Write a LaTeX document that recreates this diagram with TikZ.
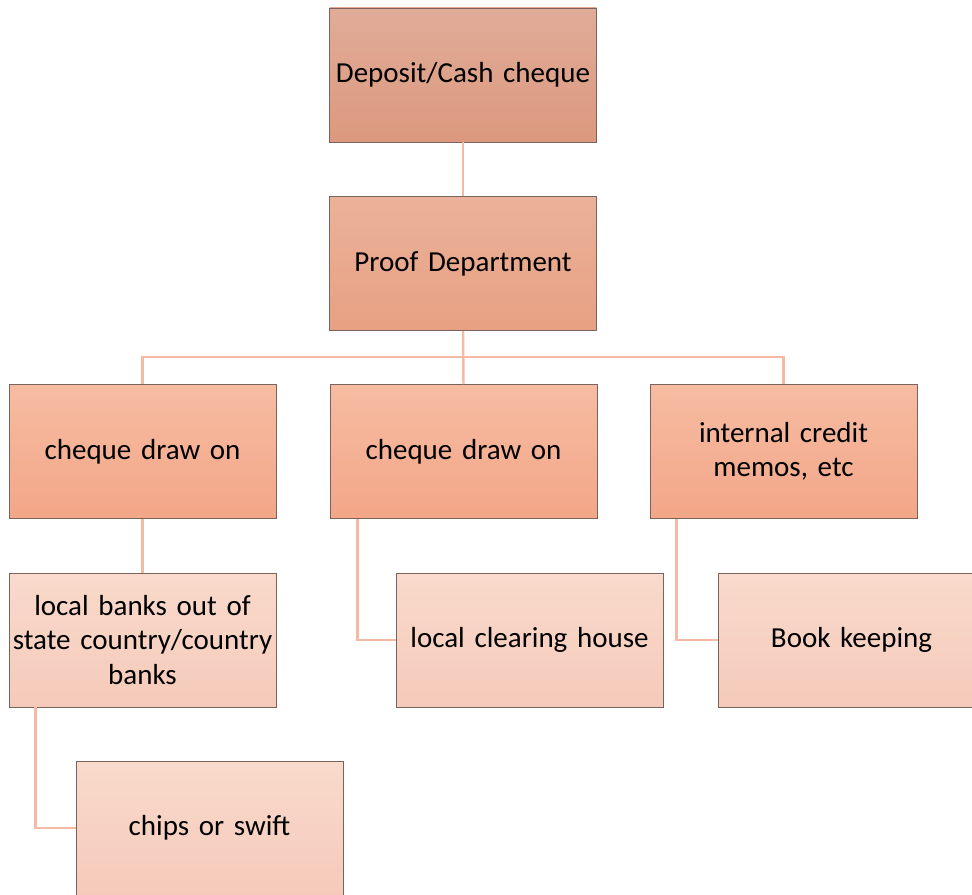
\documentclass[tikz,border=0pt]{standalone}
\usepackage{fontspec}
\setmainfont{Carlito}
\newcommand\boxfont{\fontsize{16.5}{19.5}\selectfont\spaceskip=0.7\fontdimen2\font\relax}
\definecolor{linkcol}{RGB}{244,186,164}
\definecolor{edgecol}{RGB}{120,100,92}
\tikzset{
    box/.style={draw=edgecol, line width=0.5pt, minimum width=5.34cm, minimum height=2.68cm,
        text width=5.3cm, align=center, inner sep=0pt, font=\boxfont},
    topbox/.style={box, top color={rgb,255:red,224;green,172;blue,152}, bottom color={rgb,255:red,220;green,152;blue,126}},
    deptbox/.style={box, top color={rgb,255:red,234;green,178;blue,154}, bottom color={rgb,255:red,232;green,160;blue,130}},
    midbox/.style={box, top color={rgb,255:red,246;green,188;blue,162}, bottom color={rgb,255:red,243;green,166;blue,136}},
    lowbox/.style={box, top color={rgb,255:red,249;green,218;blue,204}, bottom color={rgb,255:red,245;green,202;blue,186}},
    link/.style={draw=linkcol, line width=1.4pt}
}
\begin{document}
\begin{tikzpicture}
    \useasboundingbox (0,0) rectangle (19.44,-17.88);
    % top of the tree
    \node[topbox] (dep) at (9.26,-1.5) {Deposit/Cash cheque};
    \node[deptbox] (proof) at (9.26,-5.27) {Proof Department};
    % second level
    \node[midbox] (chqA) at (2.85,-9.03) {cheque draw on};
    \node[midbox] (chqB) at (9.27,-9.03) {cheque draw on};
    \node[midbox] (memo) at (15.67,-9.03) {internal credit\\memos, etc};
    % third level
    \node[lowbox] (banks) at (2.85,-12.8) {local banks out of\\state country/country\\banks};
    \node[lowbox] (clear) at (10.59,-12.8) {local clearing house};
    \node[lowbox] (book) at (17.03,-12.8) {Book keeping};
    \node[lowbox] (chips) at (4.19,-16.56) {chips or swift};
    \coordinate (bus) at (9.26,-7.14);
    % connectors
    \draw[link] (dep.south) -- (proof.north);
    \draw[link] (proof.south) -- (chqB.north);
    \draw[link] (chqA.north) |- (bus) -| (memo.north);
    \draw[link] (chqA.south) -- (banks.north);
    \draw[link] ([xshift=0.56cm]chqB.south west) |- (clear.west);
    \draw[link] ([xshift=0.54cm]memo.south west) |- (book.west);
    \draw[link] ([xshift=0.54cm]banks.south west) |- (chips.west);
\end{tikzpicture}
\end{document}
